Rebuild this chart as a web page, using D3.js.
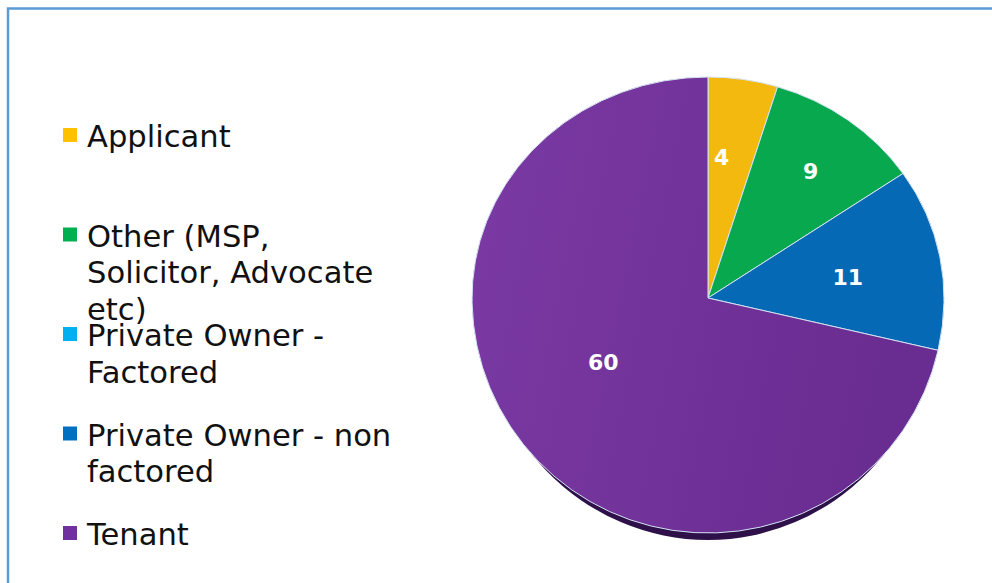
<!DOCTYPE html>
<html>
<head>
<meta charset="utf-8" />
<title>Pie chart</title>
<script src="https://cdn.jsdelivr.net/npm/d3@7"></script>
<style>
  body { margin: 0; background: #fff; }
  svg { display: block; font-family: "DejaVu Sans", Verdana, sans-serif; }
</style>
</head>
<body>
<svg id="chart" width="992" height="583"></svg>
<script>
// data
var categories = ["Applicant", "Other (MSP, Solicitor, Advocate etc)", "Private Owner - Factored", "Private Owner - non factored", "Tenant"];
var values = [4, 9, 0, 11, 60];
var legendLines = [["Applicant"], ["Other (MSP,", "Solicitor, Advocate", "etc)"], ["Private Owner -", "Factored"], ["Private Owner - non", "factored"], ["Tenant"]];
var sliceColors = ["#f4b90e", "#08a84f", "#00b0f0", "#0569b5", "url(#purpleGrad)"];
var legendColors = ["#ffc000", "#00b050", "#00b0f0", "#0070c0", "#7030a0"];

var svg = d3.select("#chart");

// frame
svg.append("rect")
  .attr("x", 8).attr("y", 8.5)
  .attr("width", 1100).attr("height", 700)
  .attr("fill", "none")
  .attr("stroke", "#5b9bd5")
  .attr("stroke-width", 2.5);

var defs = svg.append("defs");
var g = defs.append("linearGradient").attr("id", "purpleGrad")
  .attr("x1", 0).attr("x2", 1).attr("y1", 0).attr("y2", 0.2);
g.append("stop").attr("offset", 0).attr("stop-color", "#7b3aa4");
g.append("stop").attr("offset", 1).attr("stop-color", "#692c90");

// pie geometry (3d-ish: far half flatter than near half)
var cx = 708, cy = 298, rx = 236, ryTop = 221, ryBottom = 235, depth = 7;

defs.append("clipPath").attr("id", "clipTop")
  .append("rect").attr("x", 0).attr("y", 0).attr("width", 992).attr("height", cy + 0.5);
defs.append("clipPath").attr("id", "clipBottom")
  .append("rect").attr("x", 0).attr("y", cy - 0.5).attr("width", 992).attr("height", 583);

var pie = d3.pie().sort(null).value(function(d) { return d; });
var arcs = pie(values);
var arc = d3.arc().innerRadius(0).outerRadius(rx);

// side of the pie, only the near half shows
svg.append("g").attr("clip-path", "url(#clipBottom)")
  .append("ellipse")
  .attr("cx", cx).attr("cy", cy + depth)
  .attr("rx", rx - 8).attr("ry", ryBottom)
  .attr("fill", "#2f1149");

[["clipTop", ryTop], ["clipBottom", ryBottom]].forEach(function(h) {
  var inner = svg.append("g").attr("clip-path", "url(#" + h[0] + ")")
    .append("g")
    .attr("transform", "translate(" + cx + "," + cy + ") scale(1," + (h[1] / rx) + ")");
  inner.selectAll("path")
    .data(arcs.filter(function(d) { return d.value > 0; }))
    .enter().append("path")
    .attr("d", arc)
    .attr("fill", function(d) { return sliceColors[d.index]; })
    .attr("stroke", "#d4e3f3")
    .attr("stroke-width", 1)
    .attr("vector-effect", "non-scaling-stroke");
});

// data labels
var labelLayout = { 0: [0.64, -3.4], 1: [0.72, 0.7], 3: [0.6, 1.6], 4: [0.52, 7.2] };
svg.selectAll("text.lbl")
  .data(arcs.filter(function(d) { return d.value > 0; }))
  .enter().append("text")
  .attr("class", "lbl")
  .attr("x", function(d) {
    var l = labelLayout[d.index];
    var a = (d.startAngle + d.endAngle) / 2 + l[1] * Math.PI / 180;
    return cx + rx * l[0] * Math.sin(a);
  })
  .attr("y", function(d) {
    var l = labelLayout[d.index];
    var a = (d.startAngle + d.endAngle) / 2 + l[1] * Math.PI / 180;
    var ry = Math.cos(a) > 0 ? ryTop : ryBottom;
    return cy - ry * l[0] * Math.cos(a);
  })
  .attr("dy", "0.36em")
  .attr("text-anchor", "middle")
  .attr("fill", "#fff")
  .attr("font-weight", "bold")
  .attr("font-size", 22)
  .text(function(d) { return d.value; });

// legend
var legend = svg.selectAll("g.leg")
  .data(categories)
  .enter().append("g")
  .attr("class", "leg")
  .attr("transform", function(d, i) { return "translate(63," + (147 + i * 99.5) + ")"; });

legend.append("rect")
  .attr("x", 0).attr("y", -19)
  .attr("width", 14).attr("height", 14)
  .attr("fill", function(d, i) { return legendColors[i]; });

legend.append("text")
  .attr("x", 24)
  .attr("fill", "#111")
  .attr("font-size", 30.6)
  .selectAll("tspan")
  .data(function(d, i) { return legendLines[i]; })
  .enter().append("tspan")
  .attr("x", 24)
  .attr("y", function(d, j) { return j * 36.7; })
  .text(function(d) { return d; });
</script>
</body>
</html>
